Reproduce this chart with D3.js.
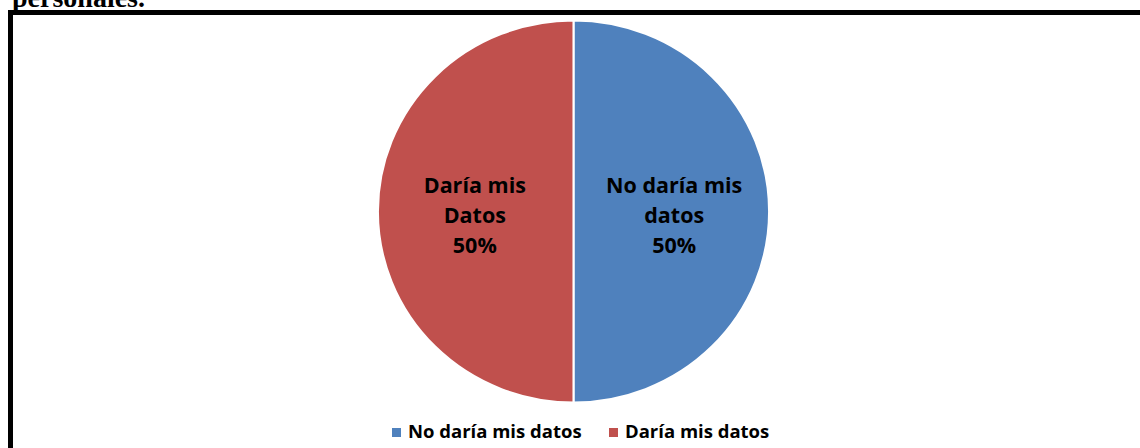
<!DOCTYPE html>
<html>
<head>
<meta charset="utf-8">
<script src="https://cdn.jsdelivr.net/npm/d3@7"></script>
<style>
  html, body { margin: 0; padding: 0; background: #fff; }
  svg { display: block; }
</style>
</head>
<body>
<svg id="chart" width="1140" height="448"></svg>
<script>
// Survey answers: would the respondent hand over personal data?
const categories = ["No daría mis datos", "Daría mis datos"];
const sliceLabels = [["No daría mis", "datos"], ["Daría mis", "Datos"]];
const values = [50, 50];
const colors = ["#4F81BD", "#C0504D"];

const W = 1140, H = 448;
const svg = d3.select("#chart");

// Caption fragment above the framed figure
svg.append("text")
  .attr("x", 12).attr("y", 7)
  .attr("font-family", "Liberation Serif, Times New Roman, serif")
  .attr("font-weight", "bold")
  .attr("font-size", 28)
  .attr("fill", "#000")
  .text("personales.");

// Frame (top and left edges visible)
svg.append("path")
  .attr("d", `M10.5,${H} V12.5 H${W}`)
  .attr("fill", "none")
  .attr("stroke", "#000")
  .attr("stroke-width", 5);

const cx = 573.5, cy = 211.5, r = 191;
const data = categories.map((c, i) => ({ cat: c, value: values[i], lines: sliceLabels[i], color: colors[i] }));

const pie = d3.pie().sort(null).value(d => d.value);
const arcs = pie(data);
const arc = d3.arc().innerRadius(0).outerRadius(r);

const g = svg.append("g")
  .attr("transform", `translate(${cx},${cy}) scale(1.024,1)`);

g.selectAll("path.slice")
  .data(arcs)
  .enter().append("path")
  .attr("class", "slice")
  .attr("d", arc)
  .attr("fill", d => d.data.color)
  .attr("stroke", "#fff")
  .attr("stroke-width", 2);

// Labels inside each slice
const labelArc = d3.arc().innerRadius(r * 0.52).outerRadius(r * 0.52);
const fmt = d3.format(".0%");
const total = d3.sum(values);
const lab = svg.append("g").attr("transform", `translate(${cx},${cy})`);
arcs.forEach(a => {
  const [lx, ly] = labelArc.centroid(a);
  const lines = a.data.lines.concat([fmt(a.data.value / total)]);
  const t = lab.append("text")
    .attr("text-anchor", "middle")
    .attr("font-family", "Open Sans, Lato, sans-serif")
    .attr("font-weight", "bold")
    .attr("font-size", 21.5)
    .attr("fill", "#000");
  lines.forEach((s, i) => {
    t.append("tspan")
      .attr("x", lx * 1.024 + (lx < 0 ? 3 : -1))
      .attr("y", ly + 11 + (i - 1) * 30)
      .text(s);
  });
});

// Legend
const legendItems = [
  { x: 392, label: categories[0], color: colors[0] },
  { x: 609, label: categories[1], color: colors[1] }
];
const lg = svg.append("g");
legendItems.forEach(it => {
  lg.append("rect")
    .attr("x", it.x).attr("y", 428)
    .attr("width", 9).attr("height", 9)
    .attr("fill", it.color);
  lg.append("text")
    .attr("x", it.x + 16).attr("y", 438)
    .attr("font-family", "Open Sans, Lato, sans-serif")
    .attr("font-weight", "bold")
    .attr("font-size", 18.5)
    .attr("fill", "#000")
    .text(it.label);
});
</script>
</body>
</html>
